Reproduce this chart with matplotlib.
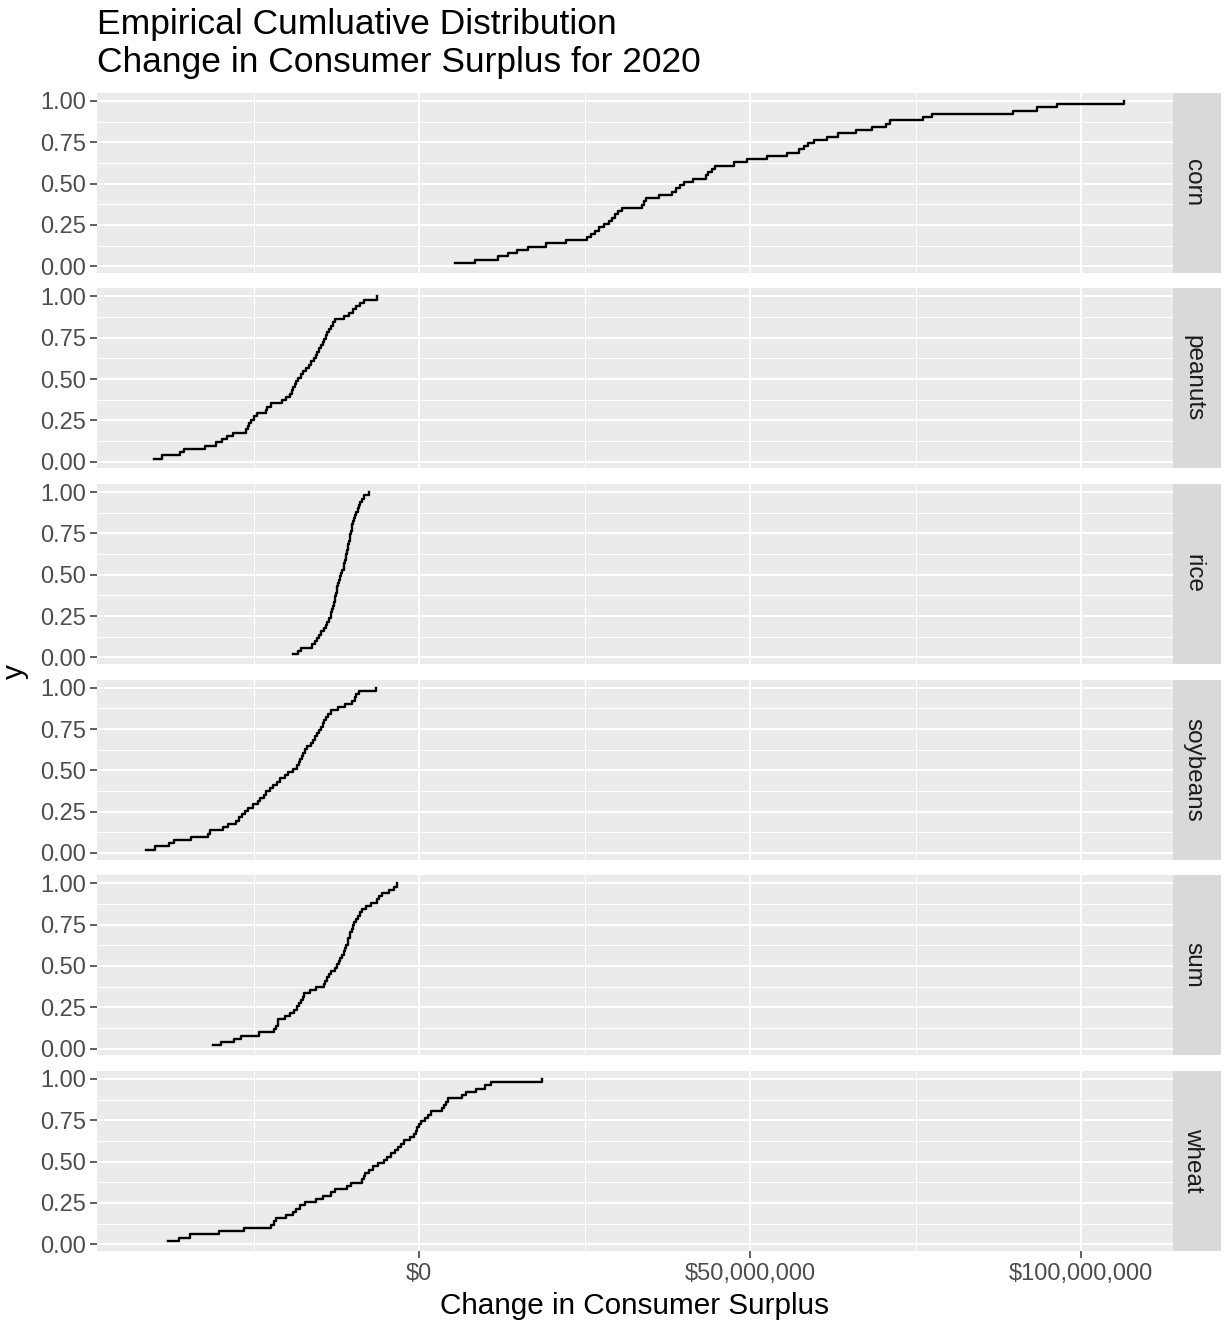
import numpy as np
import matplotlib
matplotlib.use('Agg')
import matplotlib.pyplot as plt
from matplotlib.ticker import FuncFormatter, MultipleLocator, FixedLocator

plt.rcParams['font.family'] = ['Liberation Sans', 'DejaVu Sans']

W, H = 1225, 1327

crops = ['corn', 'peanuts', 'rice', 'soybeans', 'sum', 'wheat']

# sorted change in consumer surplus per draw, millions of dollars
corn = [5.4, 8.5, 11.9, 13.4, 14.7, 16.5, 19.2, 22.2, 25.3, 26.0, 26.6,
        27.2, 27.9, 28.7, 29.2, 29.6, 30.1, 30.6, 33.7, 34.0, 34.3,
        36.3, 38.2, 38.8, 39.4, 40.0, 41.3, 43.3, 43.7, 44.2, 44.7,
        47.5, 49.5, 52.5, 55.5, 57.4, 58.1, 58.8, 59.6, 61.6, 63.3,
        66.0, 68.4, 70.6, 71.2, 76.1, 77.5, 89.7, 93.3, 96.4, 106.5]
peanuts = [-40.1, -38.8, -36.1, -35.5, -32.4, -30.7, -29.8, -29.0, -28.2, -26.2, -25.9,
           -25.7, -25.4, -25.0, -24.5, -23.2, -23.0, -22.4, -20.8, -20.2, -19.5,
           -19.2, -19.0, -18.8, -18.6, -18.3, -17.9, -17.5, -17.1, -16.7, -16.3,
           -15.9, -15.6, -15.4, -15.1, -14.8, -14.6, -14.4, -14.1, -13.9, -13.6,
           -13.3, -13.0, -12.7, -11.3, -10.6, -10.0, -9.5, -9.0, -8.4, -6.4]
rice = [-19.0, -18.3, -17.9, -16.2, -15.8, -15.5, -15.1, -14.8, -14.4, -14.1, -13.9,
        -13.6, -13.4, -13.3, -13.2, -13.1, -12.9, -12.8, -12.7, -12.6, -12.5,
        -12.4, -12.3, -12.1, -12.0, -11.8, -11.6, -11.4, -11.3, -11.2, -11.1,
        -11.0, -10.9, -10.8, -10.7, -10.6, -10.5, -10.4, -10.3, -10.2, -10.1,
        -10.0, -9.8, -9.7, -9.6, -9.3, -9.1, -8.9, -8.7, -8.4, -7.6]
soybeans = [-41.3, -40.0, -37.8, -37.1, -34.5, -31.9, -31.6, -29.7, -28.9, -27.7, -27.3,
            -26.8, -26.4, -25.9, -25.1, -24.4, -24.0, -23.5, -23.1, -22.6, -22.1,
            -21.5, -21.0, -20.3, -19.8, -19.1, -18.5, -18.2, -18.0, -17.7, -17.5,
            -17.3, -16.9, -16.4, -16.0, -15.7, -15.5, -15.2, -14.9, -14.6, -14.4,
            -14.1, -13.8, -13.3, -12.3, -11.2, -10.2, -9.7, -9.5, -9.1, -6.5]
total = [-31.2, -30.0, -28.0, -27.0, -24.2, -22.0, -21.6, -21.4, -21.3, -20.3, -19.6,
         -18.9, -18.4, -18.1, -17.8, -17.6, -17.4, -16.5, -15.6, -14.4, -14.2,
         -14.0, -13.7, -13.3, -12.8, -12.5, -12.2, -11.9, -11.6, -11.4, -11.2,
         -11.0, -10.8, -10.7, -10.5, -10.4, -10.2, -10.0, -9.8, -9.6, -9.3,
         -9.0, -8.6, -8.1, -7.3, -6.4, -6.1, -5.7, -4.6, -3.8, -3.3]
wheat = [-37.9, -36.3, -34.6, -30.2, -26.5, -22.4, -22.0, -21.7, -20.1, -19.1, -18.6,
         -18.0, -17.2, -15.6, -14.5, -13.4, -12.8, -10.9, -10.3, -8.6, -8.4,
         -8.2, -7.6, -7.0, -6.3, -5.4, -4.8, -4.2, -3.6, -3.2, -2.8,
         -2.3, -1.4, -0.8, -0.5, -0.3, -0.1, 0.3, 0.8, 1.3, 1.8,
         3.5, 3.8, 4.1, 4.3, 6.5, 7.0, 8.6, 9.9, 10.8, 18.5]

series = [corn, peanuts, rice, soybeans, total, wheat]

x_ticks = [0, 50e6, 100e6]
y_ticks = [0.0, 0.25, 0.5, 0.75, 1.0]

# shared x range, ggplot-style 5% expansion
all_vals = np.concatenate([np.array(s) for s in series]) * 1e6
span = all_vals.max() - all_vals.min()
xlim = (all_vals.min() - 0.05 * span, all_vals.max() + 0.05 * span)
ylim = (-0.0395, 1.0495)

fig = plt.figure(figsize=(W / 100, H / 100), dpi=100)

left, right = 97, 1173
strip_w = 48
top0, panel_h, gap = 92.7, 180, 15.6

tick_col = '#4D4D4D'
dollar = FuncFormatter(lambda v, pos: '${:,.0f}'.format(v))

for i, (name, vals) in enumerate(zip(crops, series)):
    top = top0 + i * (panel_h + gap)
    rect = [left / W, 1 - (top + panel_h) / H, (right - left) / W, panel_h / H]
    ax = fig.add_axes(rect)
    ax.set_facecolor('#EBEBEB')
    for sp in ax.spines.values():
        sp.set_visible(False)

    x = np.sort(np.array(vals)) * 1e6
    y = np.arange(1, len(x) + 1) / len(x)
    ax.step(x, y, where='post', color='black', lw=1.7, zorder=3)

    ax.set_xlim(*xlim)
    ax.set_ylim(*ylim)
    ax.xaxis.set_major_locator(FixedLocator(x_ticks))
    ax.xaxis.set_minor_locator(MultipleLocator(25e6))
    ax.yaxis.set_major_locator(FixedLocator(y_ticks))
    ax.yaxis.set_minor_locator(MultipleLocator(0.125))
    ax.yaxis.set_major_formatter(FuncFormatter(lambda v, pos: f'{v:.2f}'))
    ax.xaxis.set_major_formatter(dollar)

    ax.grid(which='major', color='white', lw=1.45, zorder=0)
    ax.grid(which='minor', color='white', lw=0.7, zorder=0)
    ax.set_axisbelow(True)

    ax.tick_params(which='minor', length=0)
    ax.tick_params(axis='y', which='major', length=5, width=1.1, color='#333333',
                   labelsize=17, labelcolor=tick_col, pad=3)
    if i < len(crops) - 1:
        ax.tick_params(axis='x', which='major', length=0, labelbottom=False)
    else:
        ax.tick_params(axis='x', which='major', length=5, width=1.1, color='#333333',
                       labelsize=17, labelcolor=tick_col, pad=4)
        ax.set_xlabel('Change in Consumer Surplus', fontsize=21.4, color='black', labelpad=5)

    # facet strip on the right
    sax = fig.add_axes([right / W, rect[1], strip_w / W, rect[3]])
    sax.set_facecolor('#D9D9D9')
    sax.set_xticks([])
    sax.set_yticks([])
    for sp in sax.spines.values():
        sp.set_visible(False)
    sax.text(0.42, 0.5, name, rotation=-90, ha='center', va='center',
             fontsize=17.5, color='#1A1A1A', transform=sax.transAxes)

mid = top0 + (6 * panel_h + 5 * gap) / 2
fig.text(15 / W, 1 - mid / H, 'y', rotation=90, ha='center', va='center', fontsize=21.4)

fig.text(left / W, 1 - 8 / H,
         'Empirical Cumluative Distribution\nChange in Consumer Surplus for 2020',
         ha='left', va='top', fontsize=25.5, linespacing=1.2)

fig.savefig('out.png', dpi=100)
